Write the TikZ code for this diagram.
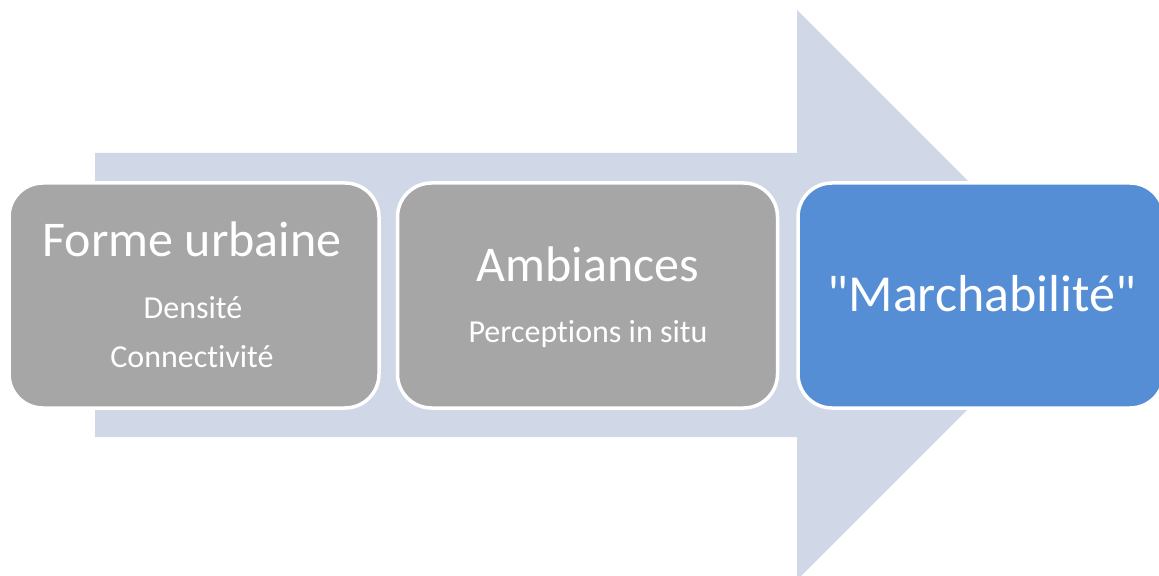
\documentclass[tikz,border=0pt]{standalone}
\usepackage{fontspec}
\setmainfont{Carlito}[Ligatures={NoCommon,TeXOff}]
\newlength{\du}
\setlength{\du}{0.5pt}
\definecolor{arrowcolor}{rgb}{0.816, 0.847, 0.910}
\definecolor{boxgray}{rgb}{0.651, 0.651, 0.651}
\definecolor{boxblue}{rgb}{0.333, 0.557, 0.835}
\tikzset{
  stepbox/.style={rectangle, rounded corners=34\du, draw=white, line width=3.5\du, inner sep=0pt},
  titletext/.style={anchor=base, text=white, inner sep=0pt, font=\fontsize{25}{30}\selectfont},
  subtext/.style={anchor=base, text=white, inner sep=0pt, font=\fontsize{16}{19}\selectfont},
}

\begin{document}
\begin{tikzpicture}
\pgftransformxscale{1.000000}
\pgftransformyscale{-1.000000}
\useasboundingbox (0\du,0\du) rectangle (1159\du,576\du);
\clip (0\du,0\du) rectangle (1159\du,576\du);
% big arrow
\fill[arrowcolor] (95\du,153\du)--(797\du,153\du)--(797\du,10\du)--(1082\du,295\du)
  --(797\du,580\du)--(797\du,437\du)--(95\du,437\du)--cycle;
% boxes
\node[stepbox, fill=boxgray, minimum width=370\du, minimum height=225\du] (forme) at (194\du,295.5\du) {};
\node[stepbox, fill=boxgray, minimum width=380\du, minimum height=225\du] (ambiances) at (587.5\du,295.5\du) {};
\node[stepbox, fill=boxblue, minimum width=366\du, minimum height=225\du] (marche) at (981\du,295.5\du) {};
% setfont left to latex
\node[titletext] (formetitle) at (192\du,257\du) {Forme urbaine};
\node[subtext] (densite) at (193\du,319\du) {Densité};
\node[subtext] (connect) at (192\du,367\du) {Connectivité};
% setfont left to latex
\node[titletext] (ambtitle) at (588\du,282\du) {Ambiances};
\node[subtext] (percep) at (588\du,343\du) {Perceptions in situ};
% setfont left to latex
\node[titletext, font=\fontsize{26}{31}\selectfont] (marchetitle) at (982\du,312\du) {"Marchabilité"};
\end{tikzpicture}
\end{document}
